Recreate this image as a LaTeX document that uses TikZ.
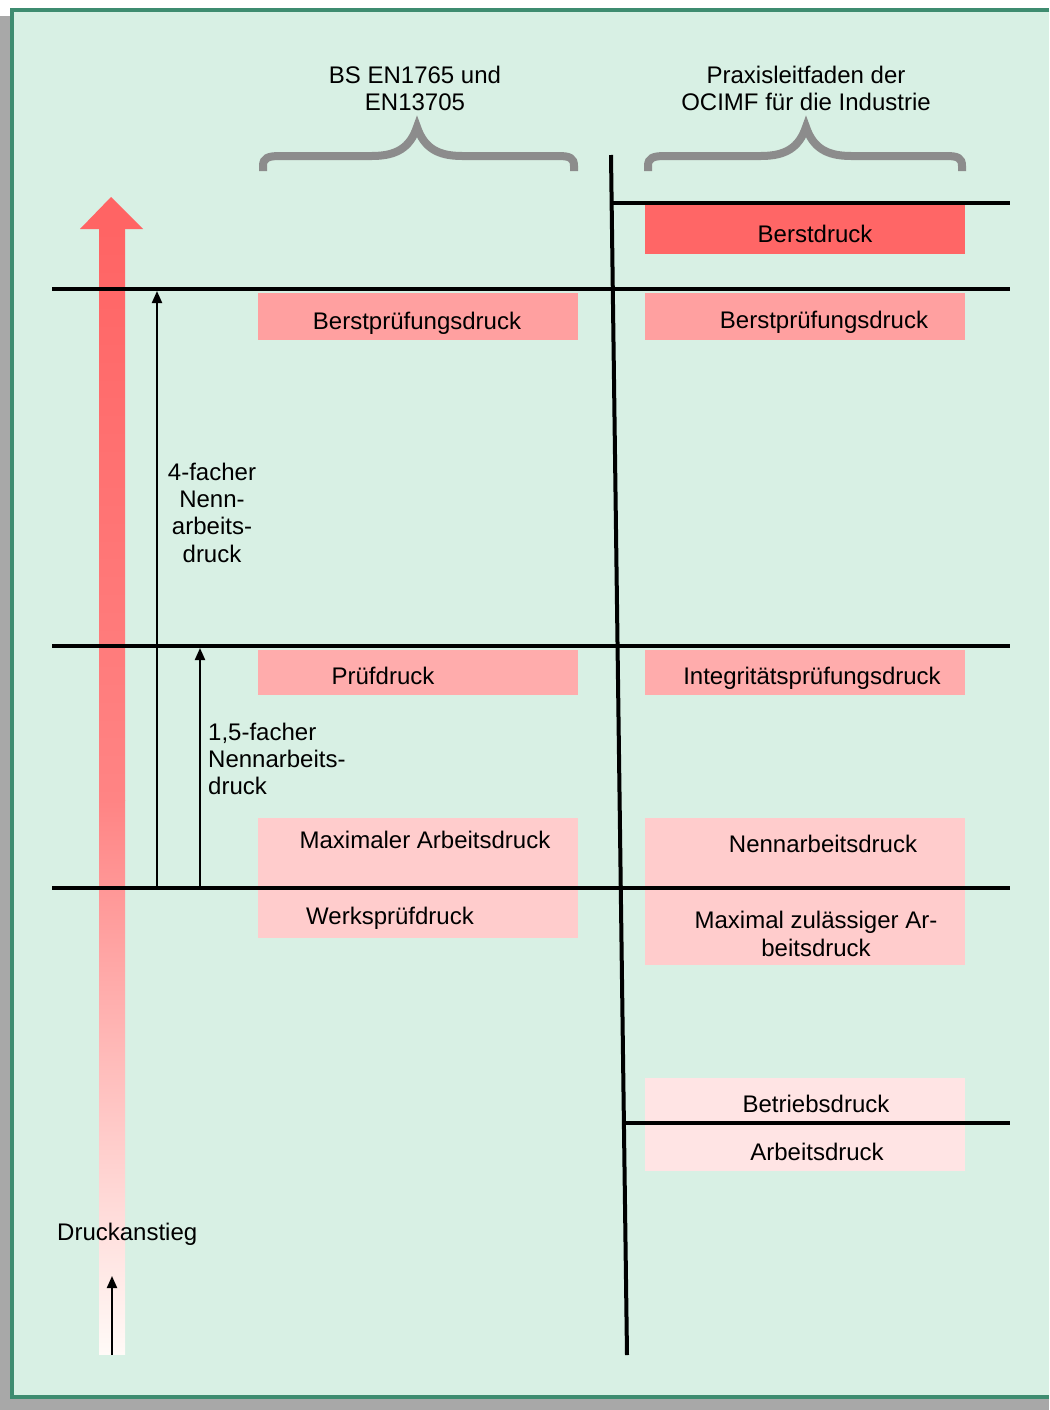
\documentclass[tikz,border=0pt]{standalone}
\usepackage{fontspec}
\setmainfont{Liberation Sans}
\usetikzlibrary{arrows.meta}
\definecolor{mint}{RGB}{216,240,228}
\definecolor{tealborder}{RGB}{62,140,112}
\definecolor{shadowgray}{RGB}{168,168,168}
\definecolor{bracegray}{RGB}{140,140,140}
\definecolor{redA}{RGB}{255,102,102}
\definecolor{redB}{RGB}{255,160,160}
\definecolor{redC}{RGB}{255,172,172}
\definecolor{redD}{RGB}{255,204,204}
\definecolor{redE}{RGB}{255,228,228}
\definecolor{arrowred}{RGB}{255,100,100}
\definecolor{arrowmid}{RGB}{255,132,132}
\definecolor{arrowlow}{RGB}{255,250,247}
\begin{document}
\begin{tikzpicture}[x=1pt,y=-1pt,
  lbl/.style={inner sep=0pt, font=\fontsize{24}{27.5}\selectfont, anchor=base},
  lbll/.style={lbl, anchor=base west},
  pbox/.style={inner sep=0pt, anchor=north west, draw=none},
  level/.style={line width=4.5pt, black},
  thinarrow/.style={line width=2pt, -{Triangle[length=12pt,width=10pt]}},
  brace/.style={line width=8pt, bracegray}
]
\useasboundingbox (0,0) rectangle (1049,1410);
% frame
\fill[white] (0,0) rectangle (1049,1410);
\fill[shadowgray] (0,16) rectangle (1049,1410);
\fill[mint] (12,10) rectangle (1049,1397);
\draw[tealborder, line width=4pt] (1049,10) -- (12,10) -- (12,1397) -- (1049,1397);

% big gradient arrow
\shade[top color=arrowred, bottom color=arrowmid] (99,228) rectangle (125,800.5);
\shade[top color=arrowmid, bottom color=arrowlow] (99,800) rectangle (125,1354);
\fill[arrowred] (80,229) -- (111,197) -- (143,229) -- cycle;

% boxes left column
\node[pbox, fill=redB, minimum width=320pt, minimum height=47pt] (lb1) at (258,293) {};
\node[pbox, fill=redC, minimum width=320pt, minimum height=45pt] (lb2) at (258,650) {};
\node[pbox, fill=redD, minimum width=320pt, minimum height=120pt] (lb3) at (258,818) {};
% boxes right column
\node[pbox, fill=redA, minimum width=320pt, minimum height=49pt] (rb0) at (645,205) {};
\node[pbox, fill=redB, minimum width=320pt, minimum height=47pt] (rb1) at (645,293) {};
\node[pbox, fill=redC, minimum width=320pt, minimum height=45pt] (rb2) at (645,650) {};
\node[pbox, fill=redD, minimum width=320pt, minimum height=147pt] (rb3) at (645,818) {};
\node[pbox, fill=redE, minimum width=320pt, minimum height=93pt] (rb4) at (645,1078) {};

% braces
\draw[brace] (263,171) -- (263,166) .. controls (263,158) and (268,156) .. (280,156) -- (372,156)
  .. controls (396,156) and (410,148) .. (417,127) .. controls (424,148) and (438,156) .. (462,156)
  -- (558,156) .. controls (570,156) and (574,158) .. (574,166) -- (574,171);
\draw[brace] (648,171) -- (648,166) .. controls (648,158) and (653,156) .. (665,156) -- (761,156)
  .. controls (785,156) and (799,148) .. (806,127) .. controls (813,148) and (827,156) .. (851,156)
  -- (946,156) .. controls (958,156) and (962,158) .. (962,166) -- (962,171);

% coordinates for lines
\coordinate (vtop) at (611,155);
\coordinate (vbot) at (627,1355);
\coordinate (l0a) at (611.6,203); \coordinate (l0b) at (1010,203);
\coordinate (l1a) at (52,289);  \coordinate (l1b) at (1010,289);
\coordinate (l2a) at (52,646);  \coordinate (l2b) at (1010,646);
\coordinate (l3a) at (52,888);  \coordinate (l3b) at (1010,888);
\coordinate (l4a) at (624,1123); \coordinate (l4b) at (1010,1123);

\draw[line width=4pt] (vtop) -- (vbot);
\draw[level] (l0a) -- (l0b);
\draw[level] (l1a) -- (l1b);
\draw[level] (l2a) -- (l2b);
\draw[level] (l3a) -- (l3b);
\draw[level] (l4a) -- (l4b);

% thin arrows
\coordinate (a1s) at (157,888); \coordinate (a1e) at (157,291);
\coordinate (a2s) at (200,888); \coordinate (a2e) at (200,648);
\coordinate (a3s) at (112,1355); \coordinate (a3e) at (112,1276);
\draw[thinarrow] (a1s) -- (a1e);
\draw[thinarrow] (a2s) -- (a2e);
\draw[thinarrow] (a3s) -- (a3e);

% headers
\node[lbl] (h1a) at (415,84) {BS EN1765 und};
\node[lbl] (h1b) at (415,111) {EN13705};
\node[lbl] (h2a) at (806,84) {Praxisleitfaden der};
\node[lbl] (h2b) at (806,111) {OCIMF für die Industrie};

% box labels
\node[lbl] (t0) at (815,242) {Berstdruck};
\node[lbl] (t1) at (417,329) {Berstprüfungsdruck};
\node[lbl] (t2) at (824,328) {Berstprüfungsdruck};
\node[lbl] (t3) at (383,684) {Prüfdruck};
\node[lbl] (t4) at (812,684) {Integritätsprüfungsdruck};
\node[lbl] (t5) at (425,848) {Maximaler Arbeitsdruck};
\node[lbl] (t6) at (390,924) {Werksprüfdruck};
\node[lbl] (t7) at (823,852) {Nennarbeitsdruck};
\node[lbl] (t8a) at (816,928) {Maximal zulässiger Ar-};
\node[lbl] (t8b) at (816,956) {beitsdruck};
\node[lbl] (t9) at (816,1112) {Betriebsdruck};
\node[lbl] (t10) at (817,1160) {Arbeitsdruck};

% arrow labels
\node[lbl] (f4a) at (212,480) {4-facher};
\node[lbl] (f4b) at (212,507) {Nenn-};
\node[lbl] (f4c) at (212,534) {arbeits-};
\node[lbl] (f4d) at (212,562) {druck};
\node[lbll] (f15a) at (208,740) {1,5-facher};
\node[lbll] (f15b) at (208,767) {Nennarbeits-};
\node[lbll] (f15c) at (208,794) {druck};
\node[lbll] (dr) at (57,1240) {Druckanstieg};
\end{tikzpicture}
\end{document}
